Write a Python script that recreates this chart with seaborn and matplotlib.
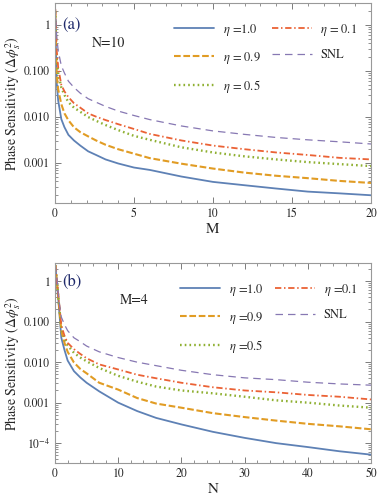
import numpy as np
import pandas as pd
import matplotlib
matplotlib.use("Agg")
import matplotlib.pyplot as plt
import matplotlib.ticker as mticker
import seaborn as sns

# panel (a): N=10, sweep over M
M_vals = [0.02, 0.1, 0.2, 0.4, 0.6, 0.85, 1.2, 1.6, 2.1, 2.6, 3.2, 4, 5, 6, 8, 10, 12, 14, 16, 18, 20]
a_eta10 = [1.5, 0.06, 0.023, 0.009, 0.006, 0.0041, 0.0031, 0.0024, 0.0018, 0.0015, 0.0012, 0.00098,
           0.0008, 0.00071, 0.00051, 0.00039, 0.00033, 0.00028, 0.00024, 0.00022, 0.0002]
a_eta09 = [2.0, 0.09, 0.04, 0.019, 0.012, 0.0085, 0.006, 0.0047, 0.0038, 0.0031, 0.0025, 0.002,
           0.0016, 0.00128, 0.00097, 0.00076, 0.00062, 0.00053, 0.00047, 0.00041, 0.00037]
a_eta05 = [2.0, 0.2, 0.09, 0.044, 0.03, 0.021, 0.016, 0.013, 0.01, 0.0083, 0.0067, 0.0052,
           0.0039, 0.0032, 0.0022, 0.0017, 0.0014, 0.0012, 0.00105, 0.00095, 0.00086]
a_eta01 = [2.2, 0.3, 0.12, 0.05, 0.036, 0.027, 0.02, 0.016, 0.012, 0.0102, 0.0086, 0.007,
           0.0055, 0.0043, 0.0031, 0.0024, 0.002, 0.0017, 0.0015, 0.0013, 0.0012]
a_snl = [2.5, 0.6, 0.28, 0.13, 0.09, 0.06, 0.044, 0.033, 0.025, 0.021, 0.017, 0.0135,
         0.0108, 0.0088, 0.0064, 0.005, 0.0042, 0.0036, 0.0032, 0.0029, 0.0026]

# panel (b): M=4, sweep over N
N_vals = [0.05, 0.3, 0.6, 1, 1.5, 2, 3, 4, 5, 7, 10, 13, 16, 20, 25, 30, 35, 40, 45, 50]
b_eta10 = [2.5, 0.9, 0.25, 0.04, 0.02, 0.011, 0.006, 0.0042, 0.0031, 0.0019, 0.001, 0.00062,
           0.00042, 0.00029, 0.00019, 0.000135, 0.0001, 0.00008, 0.000063, 0.000052]
b_eta09 = [2.5, 1.0, 0.3, 0.06, 0.03, 0.018, 0.0098, 0.0068, 0.0053, 0.0031, 0.0021, 0.0013,
           0.00095, 0.00075, 0.00055, 0.00044, 0.00036, 0.0003, 0.00026, 0.00022]
b_eta05 = [2.5, 1.0, 0.3, 0.07, 0.04, 0.026, 0.017, 0.013, 0.0105, 0.0072, 0.0046, 0.0033,
           0.0025, 0.002, 0.0017, 0.0014, 0.00114, 0.001, 0.00085, 0.00075]
b_eta01 = [2.5, 1.0, 0.35, 0.08, 0.045, 0.03, 0.021, 0.016, 0.0125, 0.0088, 0.0066, 0.0049,
           0.004, 0.0031, 0.0024, 0.002, 0.0018, 0.00155, 0.0014, 0.0012]
b_snl = [2.5, 1.2, 0.35, 0.13, 0.085, 0.06, 0.04, 0.032, 0.025, 0.018, 0.013, 0.01,
         0.0082, 0.0063, 0.0049, 0.0041, 0.0037, 0.0032, 0.0029, 0.0027]

labels_a = [r"$\eta$ =1.0", r"$\eta$ = 0.9", r"$\eta$ = 0.5", r"$\eta$ = 0.1", "SNL"]
labels_b = [r"$\eta$ =1.0", r"$\eta$ =0.9", r"$\eta$ =0.5", r"$\eta$ =0.1", "SNL"]

colors = ["#5E81B5", "#E19C24", "#8FB032", "#EB6235", "#8778B3"]
styles = ["-", (0, (3.2, 1.3)), (0, (0.7, 1.3)), (0, (3.5, 1.5, 0.8, 1.5)), (0, (6, 4))]
widths = [1.3, 1.5, 1.7, 1.3, 0.9]

sns.set_style("ticks")
plt.rcParams['font.family'] = ['STIXGeneral', 'DejaVu Serif']
plt.rcParams['mathtext.fontset'] = 'stix'
plt.rcParams['xtick.direction'] = 'in'
plt.rcParams['ytick.direction'] = 'in'

fig = plt.figure(figsize=(3.78, 5.04), dpi=100)
ax1 = fig.add_axes([0.1455, 0.597, 0.836, 0.397])
ax2 = fig.add_axes([0.1455, 0.081, 0.836, 0.397])


def draw_panel(ax, xs, series, labels, xmax, ylim, yticks, yticklabels, xmajor, xminor,
               xlabel, tag, tag_y, note, note_x, note_y):
    for vals, lab, c, ls, lw in zip(series, labels, colors, styles, widths):
        df = pd.DataFrame({"x": xs, "y": vals})
        sns.lineplot(data=df, x="x", y="y", ax=ax, color=c, linestyle=ls, linewidth=lw,
                     label=lab, estimator=None, sort=False)
    ax.set_yscale("log")
    ax.set_xlim(0, xmax)
    ax.set_ylim(*ylim)
    ax.yaxis.set_major_locator(mticker.FixedLocator(yticks))
    ax.yaxis.set_major_formatter(mticker.FixedFormatter(yticklabels))
    ax.yaxis.set_minor_locator(mticker.LogLocator(base=10, subs=np.arange(2, 10)))
    ax.yaxis.set_minor_formatter(mticker.NullFormatter())
    ax.xaxis.set_major_locator(mticker.MultipleLocator(xmajor))
    ax.xaxis.set_major_formatter(mticker.FormatStrFormatter("%d"))
    ax.xaxis.set_minor_locator(mticker.MultipleLocator(xminor))
    ax.tick_params(which="both", top=True, right=True, labelsize=8.5, color="#666666")
    ax.tick_params(which="major", length=4, width=0.6)
    ax.tick_params(which="minor", length=2, width=0.5)
    for sp in ax.spines.values():
        sp.set_color("#999999")
        sp.set_linewidth(0.8)
    ax.set_xlabel(xlabel, fontsize=11, labelpad=2)
    ax.set_ylabel(r"Phase Sensitivity $(\Delta\phi_s^2)$", fontsize=10, labelpad=1)
    ax.text(0.022, tag_y, tag, transform=ax.transAxes, fontsize=12, color="#1F2A6B", va="center")
    ax.text(note_x, note_y, note, transform=ax.transAxes, fontsize=10, va="center")
    ax.legend(loc="upper right", bbox_to_anchor=(0.985, 0.95), ncol=2, frameon=False,
              fontsize=9, handlelength=3.2, labelspacing=0.95, columnspacing=0.9,
              handletextpad=0.7, borderaxespad=0.3)


draw_panel(ax1, M_vals, [a_eta10, a_eta09, a_eta05, a_eta01, a_snl], labels_a, 20,
           (1.35e-4, 3.0), [1, 0.1, 0.01, 0.001], ["1", "0.100", "0.010", "0.001"],
           5, 1, "M", "(a)", 0.89, "N=10", 0.117, 0.80)
draw_panel(ax2, N_vals, [b_eta10, b_eta09, b_eta05, b_eta01, b_snl], labels_b, 50,
           (3.2e-5, 2.8), [1, 0.1, 0.01, 0.001, 1e-4], ["1", "0.100", "0.010", "0.001", r"$10^{-4}$"],
           10, 2, "N", "(b)", 0.905, "M=4", 0.206, 0.815)

fig.savefig("out.png", dpi=100)
